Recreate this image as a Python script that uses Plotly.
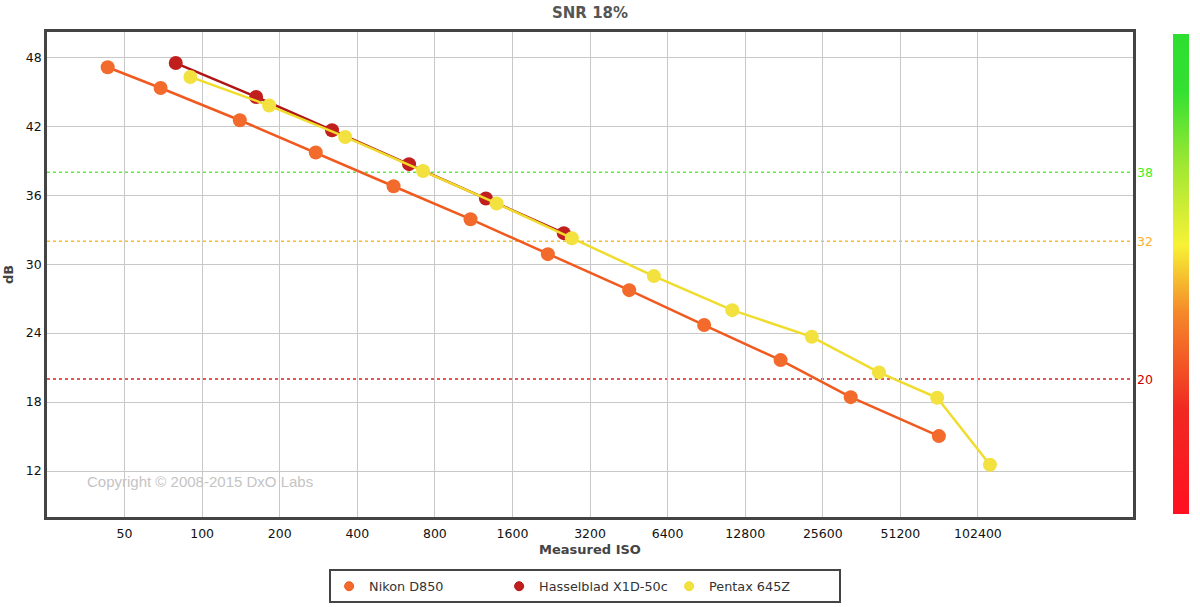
import plotly.graph_objects as go

# ---- data ----
nikon_iso = [43, 69, 140, 276, 553, 1100, 2195, 4540, 8870, 17560, 32860, 72250]
nikon_db = [47.13, 45.33, 42.52, 39.71, 36.78, 33.91, 30.87, 27.74, 24.70, 21.65, 18.43, 15.04]

hassel_iso = [79, 162, 319, 635, 1262, 2531]
hassel_db = [47.50, 44.55, 41.65, 38.70, 35.71, 32.70]

pentax_iso = [90, 182, 359, 720, 1389, 2720, 5660, 11400, 23200, 42300, 71150, 114000]
pentax_db = [46.29, 43.80, 41.07, 38.11, 35.28, 32.26, 28.96, 26.00, 23.68, 20.58, 18.37, 12.55]

x_ticks = [50, 100, 200, 400, 800, 1600, 3200, 6400, 12800, 25600, 51200, 102400]
y_ticks = [12, 18, 24, 30, 36, 42, 48]

ref_levels = [38, 32, 20]
ref_colors = ["#5cee3a", "#f9bb2e", "#dd2020"]
ref_text_colors = ["#44ee22", "#f8b030", "#cc0000"]

FONT = "DejaVu Sans"

fig = go.Figure()

series = [
    ("Nikon D850", nikon_iso, nikon_db, "#f26a2c", "#f15a1f"),
    ("Hasselblad X1D-50c", hassel_iso, hassel_db, "#c11f1e", "#b01515"),
    ("Pentax 645Z", pentax_iso, pentax_db, "#f2e13f", "#f0dc2c"),
]
for name, xs, ys, mcol, lcol in series:
    fig.add_trace(go.Scatter(
        x=xs, y=ys, mode="lines+markers", name=name, legendgroup=name,
        showlegend=False,
        line=dict(color=lcol, width=2.5),
        marker=dict(color=mcol, size=14, line=dict(width=0)),
    ))
# legend entries (small dot symbols as in the reference)
for name, xs, ys, mcol, lcol in series:
    fig.add_trace(go.Scatter(
        x=[None], y=[None], mode="markers", name=name, legendgroup=name,
        marker=dict(color=mcol, size=9, line=dict(width=1, color=lcol)),
    ))

# dummy trace for the colour bar
fig.add_trace(go.Scatter(
    x=[100], y=[30], mode="markers", showlegend=False, hoverinfo="skip",
    marker=dict(size=1, opacity=0, color=[0], cmin=0, cmax=1,
                colorscale=[[0, "#ff1020"], [0.22, "#f02a22"], [0.42, "#f5892a"],
                            [0.56, "#f7f235"], [0.72, "#a4e833"], [0.88, "#34e032"],
                            [1, "#2ede2e"]],
                showscale=True,
                colorbar=dict(x=1.0368, xanchor="left", xpad=0, ypad=0,
                              y=0.5, yanchor="middle",
                              lenmode="pixels", len=480, thickness=16,
                              outlinewidth=0, ticks="", showticklabels=False)),
))

for lvl, c, tc in zip(ref_levels, ref_colors, ref_text_colors):
    fig.add_shape(type="line", xref="paper", x0=0, x1=1, yref="y", y0=lvl, y1=lvl,
                  line=dict(color=c, width=1.5, dash="dot"), layer="below")
    fig.add_annotation(xref="paper", x=1, yref="y", y=lvl, text=str(lvl),
                       showarrow=False, xanchor="left", xshift=2,
                       font=dict(family=FONT, size=12.5, color=tc))

fig.add_annotation(xref="paper", yref="paper", x=0.035, y=0.074,
                   text="Copyright © 2008-2015 DxO Labs", showarrow=False,
                   xanchor="left", yanchor="middle",
                   font=dict(family="Liberation Sans", size=15, color="#c4c4c4"))

fig.update_layout(
    width=1200, height=607,
    margin=dict(l=47, r=67, t=32, b=90, autoexpand=False),
    paper_bgcolor="white", plot_bgcolor="white",
    title=dict(text="<b>SNR 18%</b>", x=0.4917, xanchor="center", y=0.979, yanchor="middle",
               font=dict(family=FONT, size=15, color="#555555")),
    font=dict(family=FONT, size=12.5, color="#111111"),
    showlegend=True,
    legend=dict(orientation="h", x=0.4955, xanchor="center", xref="paper",
                y=-0.108, yanchor="top",
                bordercolor="#444444", borderwidth=2, bgcolor="white",
                font=dict(family=FONT, size=12.8, color="#333333"),
                entrywidth=125, itemwidth=30),
    xaxis=dict(type="log", range=[1.398, 5.612],
               tickvals=x_ticks, ticktext=[str(v) for v in x_ticks],
               showgrid=True, gridcolor="#c8c8c8", gridwidth=1.2,
               showline=True, linecolor="#444444", linewidth=2.5, mirror=True,
               ticks="", zeroline=False, ticklabelstandoff=3,
               title=dict(text="<b>Measured ISO</b>", standoff=6,
                          font=dict(family=FONT, size=13, color="#444444"))),
    yaxis=dict(range=[8, 50.2], tickvals=y_ticks,
               showgrid=True, gridcolor="#c8c8c8", gridwidth=1.2,
               showline=True, linecolor="#444444", linewidth=2.5, mirror=True,
               ticks="", zeroline=False,
               title=dict(text="<b>dB</b>", standoff=10,
                          font=dict(family=FONT, size=13, color="#444444"))),
)

fig.write_html("out.html", config={"displayModeBar": False},
               post_script="document.body.style.margin='0';document.body.style.overflow='hidden';")
